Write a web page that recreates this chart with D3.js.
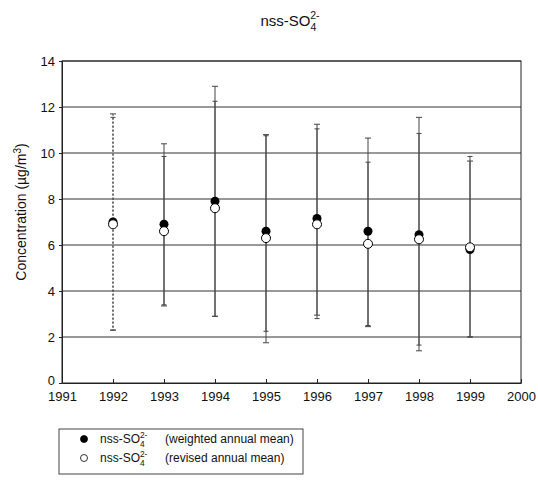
<!DOCTYPE html>
<html lang="en">
<head>
  <meta charset="UTF-8">
  <title>nss-SO4 2-</title>
  <script src="https://d3js.org/d3.v7.min.js"></script>
  <style>
    body { margin: 0; background: #fff; }
    text { font-family: "Liberation Sans", Arial, sans-serif; fill: #111; }
  </style>
</head>
<body>
  <svg id="chart" width="538" height="481"></svg>
  <script>
    const years = [1992, 1993, 1994, 1995, 1996, 1997, 1998, 1999];

    // weighted annual mean and its range
    const weightedMean = [7.0, 6.9, 7.9, 6.6, 7.15, 6.6, 6.45, 5.8];
    const weightedHigh = [11.7, 10.4, 12.9, 10.8, 11.25, 10.65, 11.55, 9.65];
    const weightedLow  = [2.3, 3.35, 2.9, 1.75, 2.95, 2.45, 1.4, 2.0];

    // revised annual mean and its range
    const revisedMean = [6.9, 6.6, 7.6, 6.3, 6.9, 6.05, 6.25, 5.9];
    const revisedHigh = [11.55, 9.85, 12.25, 10.75, 11.05, 9.6, 10.85, 9.85];
    const revisedLow  = [2.3, 3.4, 2.9, 2.25, 2.8, 2.5, 1.65, 2.0];

    const xTicks = [1991, 1992, 1993, 1994, 1995, 1996, 1997, 1998, 1999, 2000];
    const yTicks = [0, 2, 4, 6, 8, 10, 12, 14];
    const dottedYears = [1992];

    const svg = d3.select('#chart');
    const plot = { left: 62, right: 521, top: 61, bottom: 383 };

    const x = d3.scaleLinear().domain([1991, 2000]).range([plot.left, plot.right]);
    const y = d3.scaleLinear().domain([0, 14]).range([plot.bottom, plot.top]);

    // grid lines
    svg.append('g')
      .selectAll('line')
      .data(yTicks.slice(1))
      .join('line')
      .attr('x1', plot.left).attr('x2', plot.right)
      .attr('y1', d => y(d)).attr('y2', d => y(d))
      .attr('stroke', '#333').attr('stroke-width', 1);

    // axes
    const axisX = d3.axisBottom(x).tickValues(xTicks).tickFormat(d3.format('d')).tickSizeInner(-4).tickSizeOuter(0).tickPadding(9);
    const axisY = d3.axisLeft(y).tickValues(yTicks).tickSizeInner(3).tickSizeOuter(0).tickPadding(4);

    const gx = svg.append('g').attr('transform', `translate(0,${plot.bottom})`).call(axisX);
    const gy = svg.append('g').attr('transform', `translate(${plot.left},0)`).call(axisY);
    [gx, gy].forEach(g => {
      g.selectAll('path, line').attr('stroke', '#222');
      g.selectAll('text').attr('font-size', 13).attr('font-family', '"Liberation Sans", Arial, sans-serif').attr('fill', '#111');
    });
    gy.selectAll('.tick text').filter(d => d === 0).attr('dy', '0.1em');

    // frame
    svg.append('rect')
      .attr('x', plot.left).attr('y', plot.top)
      .attr('width', plot.right - plot.left).attr('height', plot.bottom - plot.top)
      .attr('fill', 'none').attr('stroke', '#222').attr('stroke-width', 1);

    // error bars
    function errorBars(highs, lows, capW) {
      const g = svg.append('g').attr('stroke', '#444').attr('stroke-width', 1);
      years.forEach((yr, i) => {
        const cx = x(yr);
        const dash = dottedYears.includes(yr) ? '2,2' : null;
        g.append('line')
          .attr('x1', cx).attr('x2', cx)
          .attr('y1', y(highs[i])).attr('y2', y(lows[i]))
          .attr('stroke-dasharray', dash);
        [highs[i], lows[i]].forEach(v => {
          g.append('line')
            .attr('x1', cx - capW / 2).attr('x2', cx + capW / 2)
            .attr('y1', y(v)).attr('y2', y(v));
        });
      });
    }
    errorBars(weightedHigh, weightedLow, 6);
    errorBars(revisedHigh, revisedLow, 5);

    // markers
    svg.append('g')
      .selectAll('circle')
      .data(years)
      .join('circle')
      .attr('cx', d => x(d))
      .attr('cy', (d, i) => y(weightedMean[i]))
      .attr('r', 4.5)
      .attr('fill', '#000');

    svg.append('g')
      .selectAll('circle')
      .data(years)
      .join('circle')
      .attr('cx', d => x(d))
      .attr('cy', (d, i) => y(revisedMean[i]))
      .attr('r', 4.5)
      .attr('fill', '#fff')
      .attr('stroke', '#000')
      .attr('stroke-width', 1);

    // chemical formula helper
    function formula(sel, size) {
      sel.append('tspan').text('nss-SO');
      sel.append('tspan').attr('font-size', size * 0.7).attr('dy', size * 0.3).text('4');
      sel.append('tspan').attr('font-size', size * 0.7).attr('dx', -size * 0.4).attr('dy', -size * 0.75).text('2-');
      return sel;
    }

    // title
    const title = svg.append('text')
      .attr('x', 290).attr('y', 26)
      .attr('text-anchor', 'middle')
      .attr('font-size', 15);
    formula(title, 15);

    // y axis label
    const yl = svg.append('text')
      .attr('transform', 'translate(26,212) rotate(-90)')
      .attr('text-anchor', 'middle')
      .attr('font-size', 14);
    yl.append('tspan').text('Concentration (\u00b5g/m');
    yl.append('tspan').attr('font-size', 10).attr('dy', -5).text('3');
    yl.append('tspan').attr('dy', 5).text(')');

    // legend
    const legend = svg.append('g');
    legend.append('rect')
      .attr('x', 59).attr('y', 429)
      .attr('width', 244).attr('height', 45)
      .attr('fill', 'none').attr('stroke', '#444').attr('stroke-width', 1);

    const legendRows = [
      { label: '(weighted annual mean)', fill: '#000', y: 443 },
      { label: '(revised annual mean)', fill: '#fff', y: 462 }
    ];
    legendRows.forEach(r => {
      legend.append('circle')
        .attr('cx', 84).attr('cy', r.y - 4).attr('r', 3.5)
        .attr('fill', r.fill).attr('stroke', '#000').attr('stroke-width', 0.8);
      const t = legend.append('text').attr('x', 100).attr('y', r.y).attr('font-size', 12);
      formula(t, 12);
      legend.append('text').attr('x', 165).attr('y', r.y).attr('font-size', 12).text(r.label);
    });
  </script>
</body>
</html>
